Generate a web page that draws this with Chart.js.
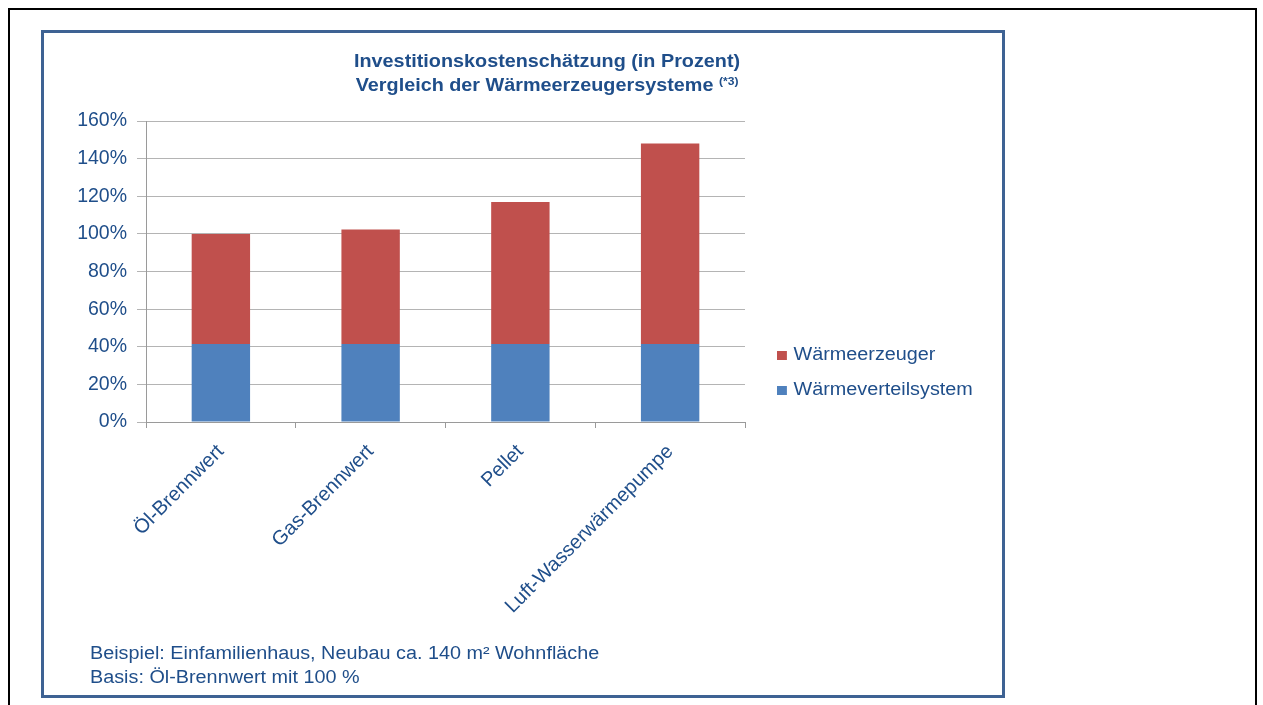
<!DOCTYPE html>
<html>
<head>
<meta charset="utf-8">
<script src="https://cdn.jsdelivr.net/npm/chart.js@4.4.1/dist/chart.umd.min.js"></script>
<style>
  body { margin: 0; background: #fff; font-family: "Liberation Sans", Arial, sans-serif; }
  #page { position: absolute; left: 8px; top: 8px; width: 1245px; height: 720px; border: 2px solid #000; }
  #box { position: absolute; left: 41px; top: 30px; width: 958px; height: 662px; border: 3px solid #3e6293; }
  #chart { position: absolute; left: 44px; top: 33px; }
  .wide { transform: scaleX(1.1); transform-origin: left top; white-space: nowrap; }
  #title { position: absolute; left: 354px; top: 49px; text-align: center; color: #1f4e8a;
           font-weight: bold; font-size: 18px; line-height: 24px; }
  #title sup { font-size: 11px; vertical-align: 6px; line-height: 0; }
  #legend { position: absolute; left: 777px; top: 340px; color: #1f4e8a; font-size: 18px; }
  #legend div { height: 35px; line-height: 28px; }
  #legend span { display: inline-block; width: 9px; height: 9px; margin-right: 6px; }
  #note { position: absolute; left: 90px; top: 641px; color: #1f4e8a; font-size: 18px; line-height: 24px; }
</style>
</head>
<body>
<div id="page"></div>
<div id="box"></div>
<canvas id="chart" width="958" height="662"></canvas>
<div id="title" class="wide">Investitionskostenschätzung (in Prozent)<br>Vergleich der Wärmeerzeugersysteme <sup>(*3)</sup></div>
<div id="legend" class="wide"></div>
<div id="note" class="wide">Beispiel: Einfamilienhaus, Neubau ca. 140 m² Wohnfläche<br>Basis: Öl-Brennwert mit 100 %</div>
<script>
// values, in percent
var categories = ["Öl-Brennwert", "Gas-Brennwert", "Pellet", "Luft-Wasserwärmepumpe"];
var verteilsystem = [41.5, 41.5, 41.5, 41.5];
var erzeuger = [58.5, 60.8, 75.5, 106.5];
var yTicks = [0, 20, 40, 60, 80, 100, 120, 140, 160];

var textColor = "#1f4e8a";
var family = "Liberation Sans, Arial, sans-serif";

var datasets = [
    { label: "Wärmeverteilsystem", data: verteilsystem, backgroundColor: "#4f81bd" },
    { label: "Wärmeerzeuger", data: erzeuger, backgroundColor: "#c0504d" }
];

var chart = new Chart(document.getElementById("chart"), {
    type: "bar",
    data: { labels: categories, datasets: datasets },
    options: {
        responsive: false,
        animation: false,
        layout: { padding: { top: 88, right: 257, left: 0, bottom: 0 } },
        plugins: { legend: { display: false }, tooltip: { enabled: false } },
        datasets: { bar: { barPercentage: 0.39, categoryPercentage: 1 } },
        scales: {
            x: {
                stacked: true,
                grid: { offset: true, drawOnChartArea: false, tickLength: 6, color: "#9a9a9a" },
                border: { color: "#9a9a9a" },
                ticks: { color: textColor, font: { family: family, size: 20 }, maxRotation: 45, minRotation: 45, padding: 12 },
                afterFit: function (s) { s.height = 273; }
            },
            y: {
                stacked: true,
                min: 0, max: 160,
                afterBuildTicks: function (s) { s.ticks = yTicks.map(function (v) { return { value: v }; }); },
                grid: { color: "#b4b4b4", tickLength: 9 },
                border: { color: "#9a9a9a" },
                ticks: { color: textColor, font: { family: family, size: 19.5 }, padding: 10, callback: function (v) { return v + "%"; } },
                afterFit: function (s) { s.width = 102; }
            }
        }
    }
});

// legend listed top to bottom like the stack
var legend = document.getElementById("legend");
datasets.slice().reverse().forEach(function (d) {
    var row = document.createElement("div");
    row.innerHTML = '<span style="background:' + d.backgroundColor + '"></span>' + d.label;
    legend.appendChild(row);
});
</script>
</body>
</html>
